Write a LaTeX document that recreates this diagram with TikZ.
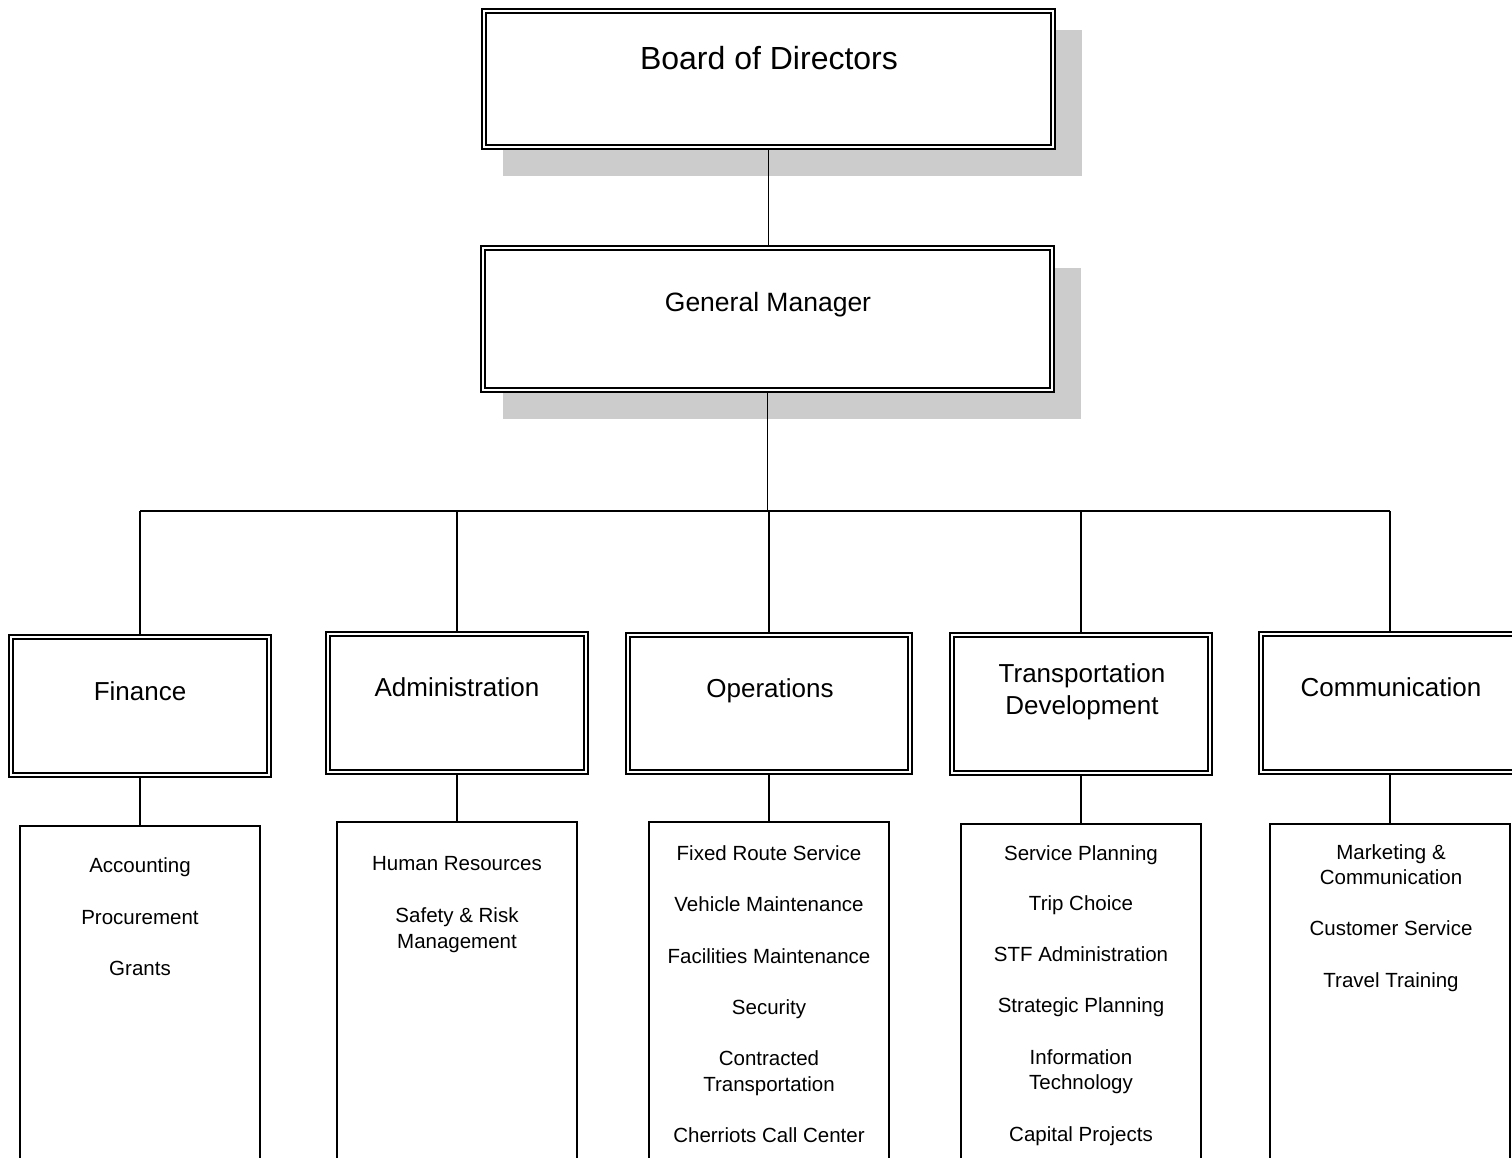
\documentclass[tikz,border=0pt]{standalone}
\usepackage{fontspec}
\setmainfont{Liberation Sans}
\usetikzlibrary{backgrounds}
\tikzset{
  x=1pt,y=-1pt,
  dbox/.style={draw=black,double=white,double distance=2.6pt,line width=1.5pt,fill=white,
    inner sep=0pt,outer sep=0pt,rectangle},
  sbox/.style={draw=black,line width=1.8pt,fill=white,inner sep=0pt,outer sep=0pt,rectangle,
    minimum width=240pt,minimum height=360pt},
  conn/.style={draw=black,line width=1.5pt},
  shadowfill/.style={fill=black!20,draw=none},
  head/.style={font=\fontsize{26}{31}\selectfont,anchor=base,inner sep=0pt},
  item/.style={font=\fontsize{20.5}{25}\selectfont,anchor=base,inner sep=0pt},
}
\begin{document}
\begin{tikzpicture}
\useasboundingbox (0,0) rectangle (1512,1158);
\clip (0,0) rectangle (1512,1158);

% top boxes
\node[dbox,minimum width=569pt,minimum height=136pt] (bod) at (768.5,79) {};
\node[dbox,minimum width=569pt,minimum height=142pt] (gm) at (767.5,319) {};
\node[font=\fontsize{32}{38}\selectfont,anchor=base,inner sep=0pt] (bodt) at (769,70) {Board of Directors};
\node[font=\fontsize{26.5}{32}\selectfont,anchor=base,inner sep=0pt] (gmt) at (768,312) {General Manager};

% department boxes
\node[dbox,minimum width=258pt,minimum height=138pt] (fin) at (140,706) {};
\node[dbox,minimum width=258pt,minimum height=138pt] (adm) at (457,703) {};
\node[dbox,minimum width=282pt,minimum height=137pt] (ops) at (769,703.5) {};
\node[dbox,minimum width=258pt,minimum height=138pt] (td) at (1081,704) {};
\node[dbox,minimum width=258pt,minimum height=138pt] (com) at (1390,703) {};

\node[head] (fint) at (140,700) {Finance};
\node[head] (admt) at (457,696.5) {Administration};
\node[head] (opst) at (770,697.5) {Operations};
\node[head] (tdt1) at (1082,682.5) {Transportation};
\node[head] (tdt2) at (1082,714.5) {Development};
\node[head] (comt) at (1391,696.5) {Communication};

% lower boxes
\node[sbox,anchor=north] (finl) at (140,826) {};
\node[sbox,anchor=north] (adml) at (457,822) {};
\node[sbox,anchor=north] (opsl) at (769,822) {};
\node[sbox,anchor=north] (tdl) at (1081,824) {};
\node[sbox,anchor=north] (coml) at (1390,824) {};

% items
\node[item] (f1) at (140,872) {Accounting};
\node[item] (f2) at (140,924) {Procurement};
\node[item] (f3) at (140,975) {Grants};

\node[item] (a1) at (457,870) {Human Resources};
\node[item] (a2) at (457,922) {Safety \& Risk};
\node[item] (a3) at (457,948) {Management};

\node[item] (o1) at (769,860) {Fixed Route Service};
\node[item] (o2) at (769,911) {Vehicle Maintenance};
\node[item] (o3) at (769,963) {Facilities Maintenance};
\node[item] (o4) at (769,1014) {Security};
\node[item] (o5) at (769,1065) {Contracted};
\node[item] (o6) at (769,1091) {Transportation};
\node[item] (o7) at (769,1142) {Cherriots Call Center};

\node[item] (t1) at (1081,860) {Service Planning};
\node[item] (t2) at (1081,910) {Trip Choice};
\node[item] (t3) at (1081,961) {STF Administration};
\node[item] (t4) at (1081,1012) {Strategic Planning};
\node[item] (t5) at (1081,1064) {Information};
\node[item] (t6) at (1081,1089) {Technology};
\node[item] (t7) at (1081,1141) {Capital Projects};

\node[item] (c1) at (1391,859) {Marketing \&};
\node[item] (c2) at (1391,884) {Communication};
\node[item] (c3) at (1391,935) {Customer Service};
\node[item] (c4) at (1391,987) {Travel Training};

\coordinate (busL) at (140,511);
\coordinate (busR) at (1390,511);

\begin{scope}[on background layer]
  \fill[white] (0,0) rectangle (1512,1158);
  \fill[shadowfill] (503,30) rectangle (1082,176);
  \fill[shadowfill] (503,268) rectangle (1081,419);
  \draw[conn] (bod.south) -- (bod.south |- gm.north);
  \draw[conn] (gm.south) -- (gm.south |- busL);
  \draw[conn] (busL) -- (busR);
  \draw[conn] (fin.north |- busL) -- (fin.north);
  \draw[conn] (adm.north |- busL) -- (adm.north);
  \draw[conn] (ops.north |- busL) -- (ops.north);
  \draw[conn] (td.north |- busL) -- (td.north);
  \draw[conn] (com.north |- busL) -- (com.north);
  \draw[conn] (fin.south) -- (finl.north);
  \draw[conn] (adm.south) -- (adml.north);
  \draw[conn] (ops.south) -- (opsl.north);
  \draw[conn] (td.south) -- (tdl.north);
  \draw[conn] (com.south) -- (coml.north);
\end{scope}
\end{tikzpicture}
\end{document}
